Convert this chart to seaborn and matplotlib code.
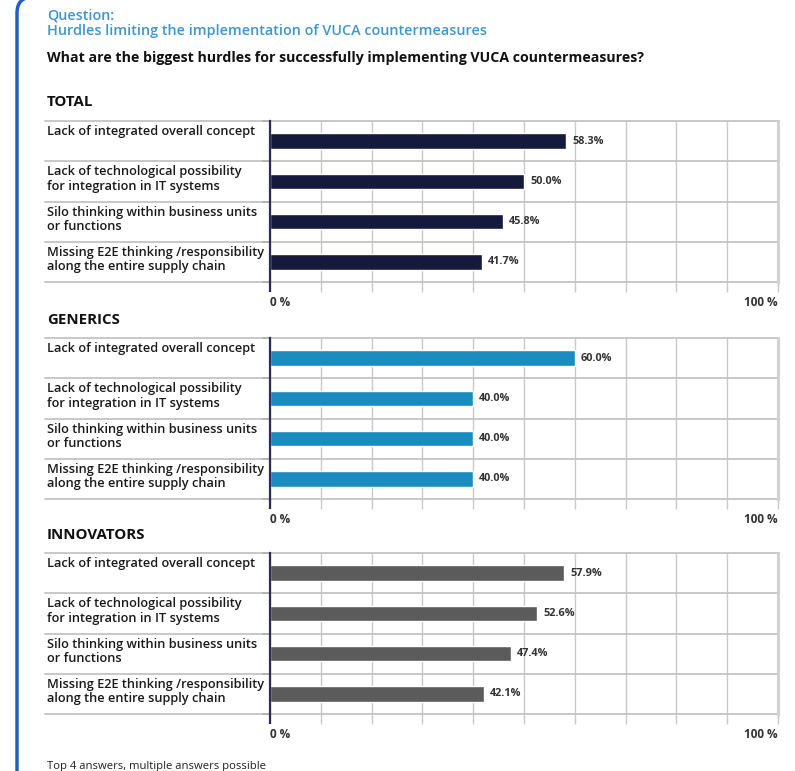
import matplotlib
matplotlib.use("Agg")
import matplotlib.pyplot as plt
import seaborn as sns
import pandas as pd
from matplotlib.path import Path
from matplotlib.patches import PathPatch
from matplotlib.transforms import blended_transform_factory

# Survey answers
categories = [
    "Lack of integrated overall concept",
    "Lack of technological possibility\nfor integration in IT systems",
    "Silo thinking within business units\nor functions",
    "Missing E2E thinking /responsibility\nalong the entire supply chain",
]
groups = ["TOTAL", "GENERICS", "INNOVATORS"]
total = [58.3, 50.0, 45.8, 41.7]
generics = [60.0, 40.0, 40.0, 40.0]
innovators = [57.9, 52.6, 47.4, 42.1]
group_values = [total, generics, innovators]
group_colors = ["#151a3d", "#1b8cc0", "#5b5b5b"]

sns.set_theme(style="white")
plt.rcParams["font.family"] = ["Open Sans", "DejaVu Sans"]

W, H = 795, 771
fig = plt.figure(figsize=(W / 100, H / 100), dpi=100)


def fx(x):
    return x / W


def fy(y):
    return 1 - y / H


# Rounded frame edge on the left
r = 16
top_edge = -3
verts = [(fx(17), fy(H + 5)), (fx(17), fy(top_edge + r)),
         (fx(17), fy(top_edge)), (fx(17 + r), fy(top_edge)),
         (fx(W + 10), fy(top_edge))]
codes = [Path.MOVETO, Path.LINETO, Path.CURVE3, Path.CURVE3, Path.LINETO]
fig.patches.append(PathPatch(Path(verts, codes), transform=fig.transFigure,
                             fill=False, edgecolor="#1f5fc4", linewidth=2.5))

# Header texts
fig.text(fx(47), fy(15), "Question:", color="#3d96cf", fontsize=10.3,
         fontweight="semibold", va="center", ha="left")
fig.text(fx(47), fy(31), "Hurdles limiting the implementation of VUCA countermeasures",
         color="#3d96cf", fontsize=10.4, fontweight="semibold", va="center", ha="left")
fig.text(fx(47), fy(58),
         "What are the biggest hurdles for successfully implementing VUCA countermeasures?",
         color="#111111", fontsize=10.2, fontweight="bold", va="center", ha="left")

panel_tops = [121, 338, 553]
panel_height = 161
header_y = [102, 320, 535]
ax_left, ax_right = 270, 778
label_x = 47
spine_color = "#2b2d55"
grid_color = "#c9c9c9"

for g, top, hy, vals, col in zip(groups, panel_tops, header_y, group_values, group_colors):
    fig.text(fx(label_x), fy(hy), g, fontsize=10.8, fontweight="bold",
             color="#111111", va="center", ha="left")
    bottom = top + panel_height
    ax = fig.add_axes([fx(ax_left), fy(bottom), (ax_right - ax_left) / W, panel_height / H])
    df = pd.DataFrame({"answer": categories, "share": vals})
    sns.barplot(data=df, x="share", y="answer", orient="h", color=col,
                width=0.39, saturation=1, ax=ax, zorder=3)
    ax.set_xlim(0, 100)
    ax.set_ylim(3.5, -0.5)
    ax.set_xlabel("")
    ax.set_ylabel("")

    # vertical grid every 10 %
    ax.set_xticks(range(0, 101, 10))
    ax.set_xticklabels([])
    ax.grid(axis="x", color=grid_color, linewidth=1.0, zorder=0)
    ax.tick_params(axis="x", direction="out", length=7.5, width=1.0,
                   color=grid_color, bottom=True)

    # row boundaries
    bounds = [i - 0.5 for i in range(len(categories) + 1)]
    ax.set_yticks(bounds)
    ax.set_yticklabels([])
    ax.tick_params(axis="y", direction="out", length=6, width=1.4,
                   color=spine_color, left=True)
    xmin = (label_x - 2 - ax_left) / (ax_right - ax_left)
    for b in bounds:
        ax.axhline(b, xmin=xmin, xmax=1, color="#c4c4c4", linewidth=1.3,
                   clip_on=False, zorder=1)

    for s in ["top", "bottom"]:
        ax.spines[s].set_visible(False)
    ax.spines["right"].set_color("#d2d2d2")
    ax.spines["right"].set_linewidth(2.2)
    ax.spines["left"].set_color(spine_color)
    ax.spines["left"].set_linewidth(1.6)
    ax.spines["left"].set_zorder(5)
    ax.plot([0, 0], [3.5, 3.76], color=spine_color, linewidth=1.6,
            clip_on=False, zorder=5, solid_capstyle="butt")

    # category labels, top aligned within each row
    trans = blended_transform_factory(fig.transFigure, ax.transData)
    for i, c in enumerate(categories):
        ax.text(fx(label_x), i - 0.5 + 0.1, c, transform=trans, fontsize=9.2,
                fontweight="semibold", color="#1a1a1a", va="top", ha="left",
                linespacing=1.15)

    # value labels
    for i, v in enumerate(vals):
        ax.text(v + 1.2, i, f"{v:.1f}%", fontsize=7.8, fontweight="bold",
                color="#333333", va="center", ha="left", zorder=4)

    ax.text(0, -0.13, "0 %", transform=ax.transAxes, fontsize=8.5,
            fontweight="bold", color="#333333", ha="left", va="center")
    ax.text(1, -0.13, "100 %", transform=ax.transAxes, fontsize=8.5,
            fontweight="bold", color="#333333", ha="right", va="center")

fig.text(fx(47), fy(767), "Top 4 answers, multiple answers possible", fontsize=8.1,
         color="#222222", va="center", ha="left")

fig.savefig("out.png", dpi=100)
